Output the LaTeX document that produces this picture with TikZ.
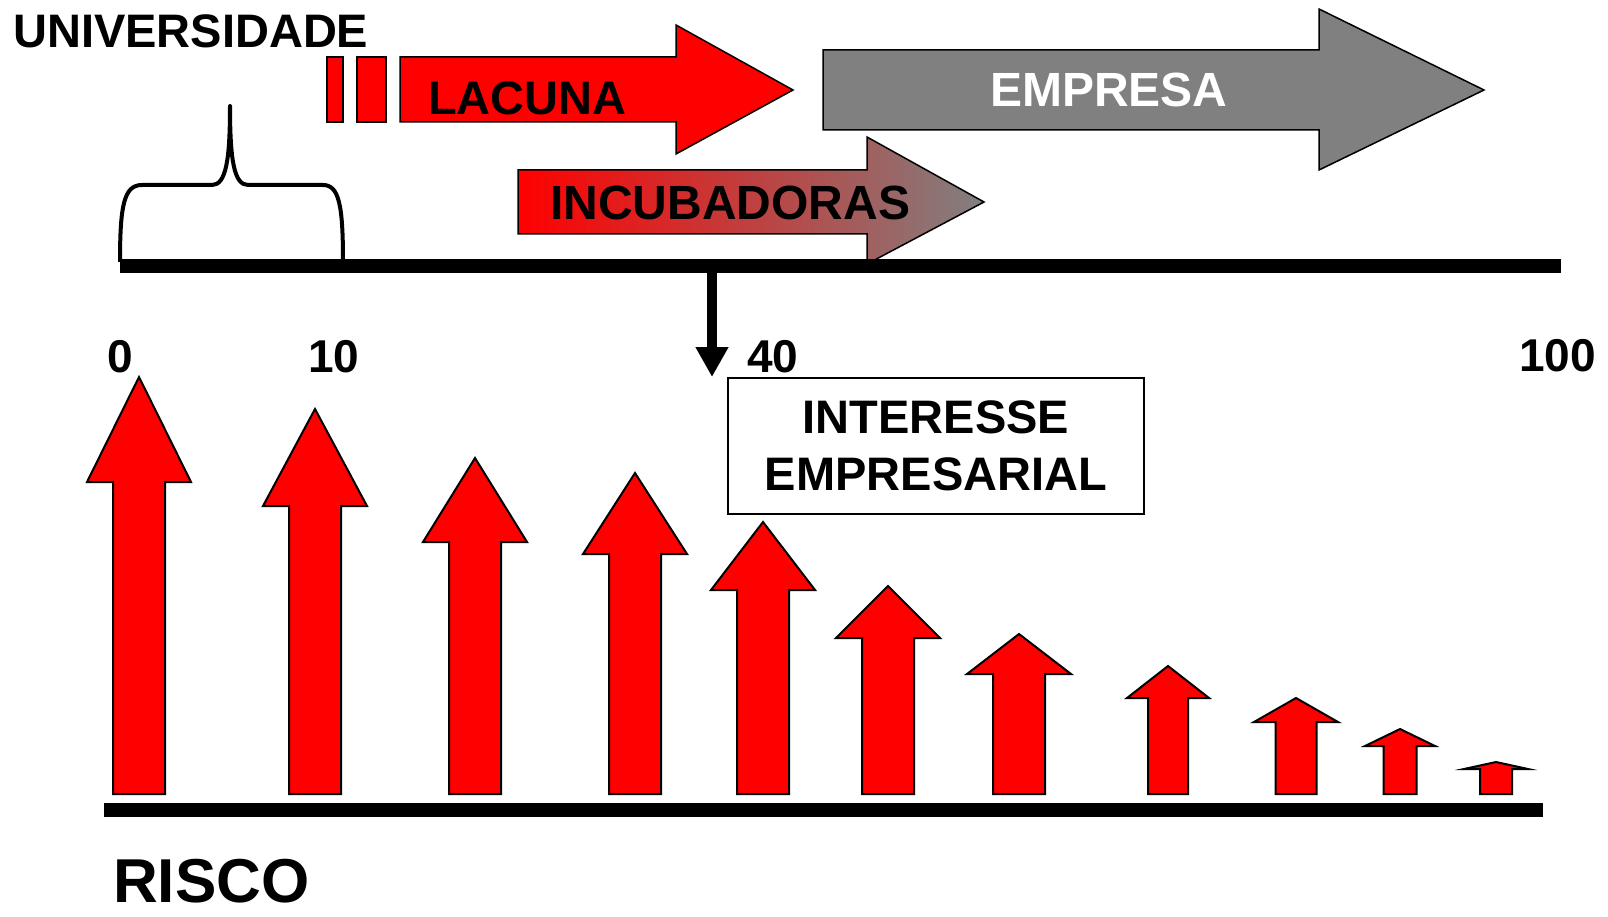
\documentclass[tikz,border=0pt]{standalone}
\usepackage{fontspec}
\setmainfont{Liberation Sans}
\usetikzlibrary{arrows.meta,positioning}
\definecolor{empgray}{RGB}{128,128,128}

\begin{document}
\begin{tikzpicture}[x=1pt,y=-1pt,
                lbl/.style = {inner sep=0pt, font=\fontsize{47}{57}\selectfont\bfseries},
                num/.style = {inner sep=0pt, font=\fontsize{46}{55}\selectfont\bfseries},
                bar/.style = {line width=14pt},
                block/.style = {draw=black, line width=1.5pt, line join=miter},
                risk/.style = {draw=black, line width=2pt, fill=red, line join=miter}]
                \useasboundingbox (0,0) rectangle (1608,917);
                \node[lbl, font=\fontsize{47}{55}\selectfont\bfseries, anchor=base west] (univ) at (13,48) {UNIVERSIDADE};
                \draw[block, fill=red] (327,57) rectangle (343,122);
                \draw[block, fill=red] (357,57) rectangle (386,122);
                \draw[block, fill=red] (400,57) -- (676,57) -- (676,25) -- (793,90) -- (676,154) -- (676,122) -- (400,122) -- cycle;
                \node[lbl, anchor=base west] (lacuna) at (428,115) {LACUNA};
                \draw[block, fill=empgray] (823,50) -- (1319,50) -- (1319,9) -- (1484,90) -- (1319,170) -- (1319,130) -- (823,130) -- cycle;
                \node[lbl, font=\fontsize{48}{57}\selectfont\bfseries, text=white, anchor=base west] (empresa) at (990,107) {EMPRESA};
                \draw[block, left color=red, right color=empgray] (518,170) -- (867,170) -- (867,137) -- (984,202) -- (867,264) -- (867,234) -- (518,234) -- cycle;
                \node[lbl, font=\fontsize{48}{57}\selectfont\bfseries, anchor=base west] (incub) at (550,220) {INCUBADORAS};
                \draw[line width=4pt, line join=round] (120,262) .. controls (120,205) and (124,185) .. (142,185) -- (212,185)
                    .. controls (226,185) and (230,160) .. (230,106) .. controls (230,160) and (234,185) .. (248,185) -- (323,185)
                    .. controls (339,185) and (343,205) .. (343,262);
                \coordinate (axL) at (120,266);
                \coordinate (axR) at (1561,266);
                \coordinate (ax40) at (712,266);
                \coordinate (ax40end) at (712,377);
                \draw[bar] (axL) -- (axR);
                \draw[line width=10pt, -{Triangle[width=31pt,length=30pt]}] (ax40) -- (ax40end);
                \node[num, anchor=base] (n0) at (120,372) {0};
                \node[num, anchor=base] (n10) at (334,372) {10};
                \node[num, anchor=base west] (n40) at (747,372) {40};
                \node[num, anchor=base east] (n100) at (1596,371) {100};
                \node[lbl, draw, line width=2pt, align=center, minimum width=416pt, minimum height=136pt] (interesse) at (936,446)
                    {INTERESSE\\EMPRESARIAL};
                \foreach \x/\w/\h/\t/\b in {139/26/52/377/482, 315/26/52/409/506, 475/26/52/458/542, 635/26/52/473/554,
                    763/26/52/522/590, 888/26/52/586/638, 1019/26/52/634/674, 1168/20/41/666/698,
                    1296/20.5/42/698/722, 1400/16.5/35/729/746, 1496/16/32/762/769}
                    \draw[risk] (\x-\w,794) -- (\x-\w,\b) -- (\x-\h,\b) -- (\x,\t) -- (\x+\h,\b) -- (\x+\w,\b) -- (\x+\w,794) -- cycle;
                \coordinate (riscoL) at (104,810);
                \coordinate (riscoR) at (1543,810);
                \draw[bar] (riscoL) -- (riscoR);
                \node[lbl, font=\fontsize{62}{70}\selectfont\bfseries, anchor=base west] (risco) at (113,902) {RISCO};
            \end{tikzpicture}
\end{document}
